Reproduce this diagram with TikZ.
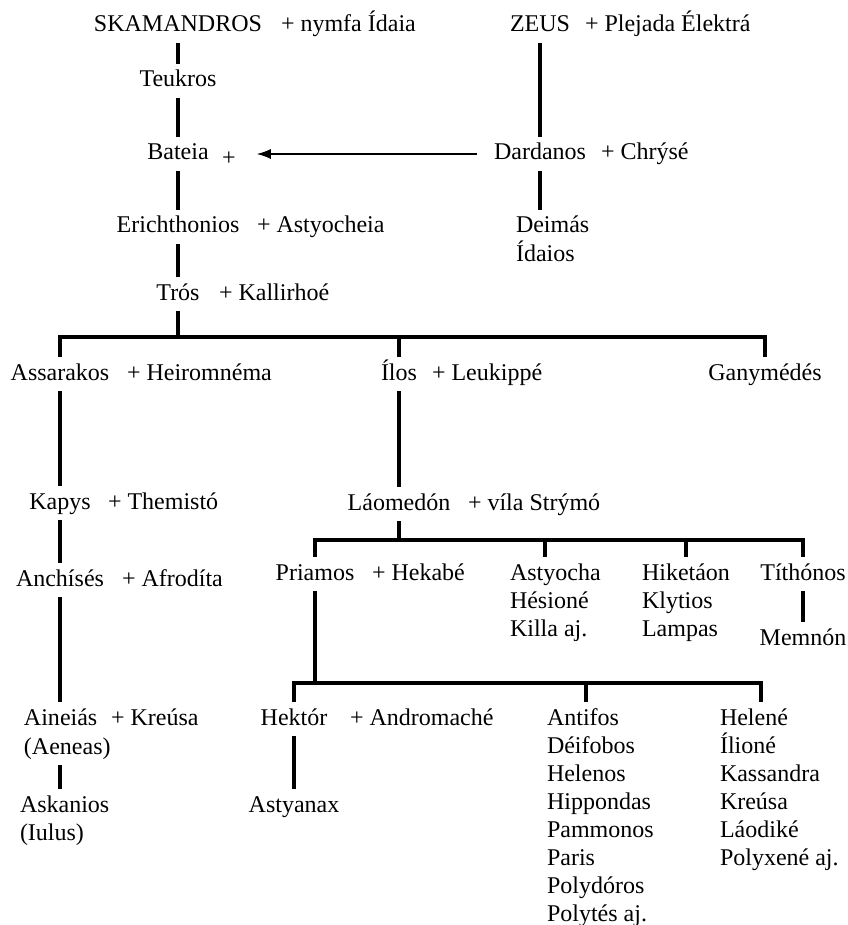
\documentclass[tikz,border=0pt]{standalone}
\usepackage{fontspec}
\setmainfont{Liberation Serif}
\usetikzlibrary{arrows.meta}
\begin{document}
\begin{tikzpicture}[x = 0.5pt, y = -0.5pt,
                        pers/.style = {inner sep = 0pt, outer sep = 2.5pt, text height = 9pt, text depth = 3pt,
                                       anchor = base, font = \fontsize{12}{14}\selectfont},
                        wife/.style = {pers, anchor = base west},
                        kin/.style = {line width = 2pt}]
    \useasboundingbox (0, 0) rectangle (847, 925);
    % Skamandros and Zeus
    \node [pers] (skam) at (178, 32){SKAMANDROS};
    \node [wife] (skamw) at (276, 32){+ nymfa Ídaia};
    \node [pers] (zeus) at (540, 32){ZEUS};
    \node [wife] (zeusw) at (580, 32){+ Plejada Élektrá};
    \node [pers] (teuk) at (178, 87){Teukros};
    \node [pers] (bat) at (178, 160){Bateia};
    \node [pers] (batw) at (229, 166){+};
    \node [pers] (dard) at (540, 160){Dardanos};
    \node [wife] (dardw) at (596, 160){+ Chrýsé};
    \node [wife] (deim) at (511, 233){Deimás};
    \node [wife] (idai) at (511, 261){Ídaios};
    \node [pers] (erich) at (178, 233){Erichthonios};
    \node [wife] (erichw) at (252, 233){+ Astyocheia};
    \node [pers] (tros) at (178, 300){Trós};
    \node [wife] (trosw) at (214, 300){+ Kallirhoé};
    % sons of Tros
    \coordinate (j1) at (178, 337);
    \node [pers] (assar) at (60, 380){Assarakos};
    \node [wife] (assarw) at (122, 380){+ Heiromnéma};
    \node [pers] (ilos) at (399, 380){Ílos};
    \node [wife] (ilosw) at (427, 380){+ Leukippé};
    \node [pers] (gany) at (765, 380){Ganymédés};
    \node [pers] (kapys) at (60, 509){Kapys};
    \node [wife] (kapysw) at (103, 509){+ Themistó};
    \node [pers] (anch) at (60, 586){Anchísés};
    \node [wife] (anchw) at (117, 586){+ Afrodíta};
    \node [wife] (ain) at (19, 725){Aineiás};
    \node [wife] (ainw) at (106, 725){+ Kreúsa};
    \node [wife] (aen) at (19, 754){(Aeneas)};
    \node [wife] (ask) at (15, 812){Askanios};
    \node [wife] (iul) at (15, 840){(Iulus)};
    \node [pers] (laom) at (399, 510){Láomedón};
    \node [wife] (laomw) at (463, 510){+ víla Strýmó};
    % children of Laomedon
    \coordinate (j2) at (399, 540);
    \coordinate (dast) at (545, 540);
    \node [pers] (pri) at (315, 580){Priamos};
    \node [wife] (priw) at (367, 580){+ Hekabé};
    \foreach \n [count = \i] in {Astyocha, Hésioné, Killa aj.}
        \node [wife] (ast\i) at (505, 552 + 28*\i){\n};
    \foreach \n [count = \i] in {Hiketáon, Klytios, Lampas}
        \node [wife] (hik\i) at (637, 552 + 28*\i){\n};
    \node [pers] (tith) at (803, 580){Títhónos};
    \node [pers] (memn) at (803, 645){Memnón};
    % children of Priamos
    \coordinate (j3) at (315, 683);
    \coordinate (dant) at (586, 683);
    \coordinate (dhel) at (761, 683);
    \node [pers] (hek) at (294, 725){Hektór};
    \node [wife] (hekw) at (345, 725){+ Andromaché};
    \node [pers] (astn) at (294, 812){Astyanax};
    \foreach \n [count = \i] in {Antifos, Déifobos, Helenos, Hippondas, Pammonos, Paris, Polydóros, Polytés aj.}
        \node [wife] (ant\i) at (542, 697 + 28*\i){\n};
    \foreach \n [count = \i] in {Helené, Ílioné, Kassandra, Kreúsa, Láodiké, Polyxené aj.}
        \node [wife] (hel\i) at (715, 697 + 28*\i){\n};
    % lines
    \draw [kin] (skam)--(teuk);
    \draw [kin] (teuk)--(bat);
    \draw [kin] (bat)--(erich);
    \draw [kin] (erich)--(tros);
    \draw [kin] (zeus)--(dard);
    \draw [kin] (dard)--(dard |- deim.north);
    \draw [line width = 0.7pt, -{Latex[length = 7pt, width = 5pt]}, shorten <= 6pt, shorten >= 8pt]
        (dard.west)--(dard.west -| batw.east);
    \draw [kin] (tros)--(j1);
    \draw [kin] (assar.north) |- (j1) -| (gany.north);
    \draw [kin] (ilos)--(ilos |- j1);
    \draw [kin] (assar)--(kapys);
    \draw [kin] (kapys)--(anch);
    \draw [kin] (anch)--(anch |- ain.north);
    \draw [kin] (anch |- aen.south)--(anch |- ask.north);
    \draw [kin] (ilos)--(laom);
    \draw [kin] (laom)--(j2);
    \draw [kin] (pri.north) |- (j2) -| (tith.north);
    \draw [kin] (dast)--(dast |- ast1.north);
    \draw [kin] (hik1)--(hik1 |- j2);
    \draw [kin] (tith)--(memn);
    \draw [kin] (pri)--(j3);
    \draw [kin] (hek.north) |- (dhel) -- (dhel |- hel1.north);
    \draw [kin] (dant)--(dant |- ant1.north);
    \draw [kin] (hek)--(astn);
  \end{tikzpicture}
\end{document}
